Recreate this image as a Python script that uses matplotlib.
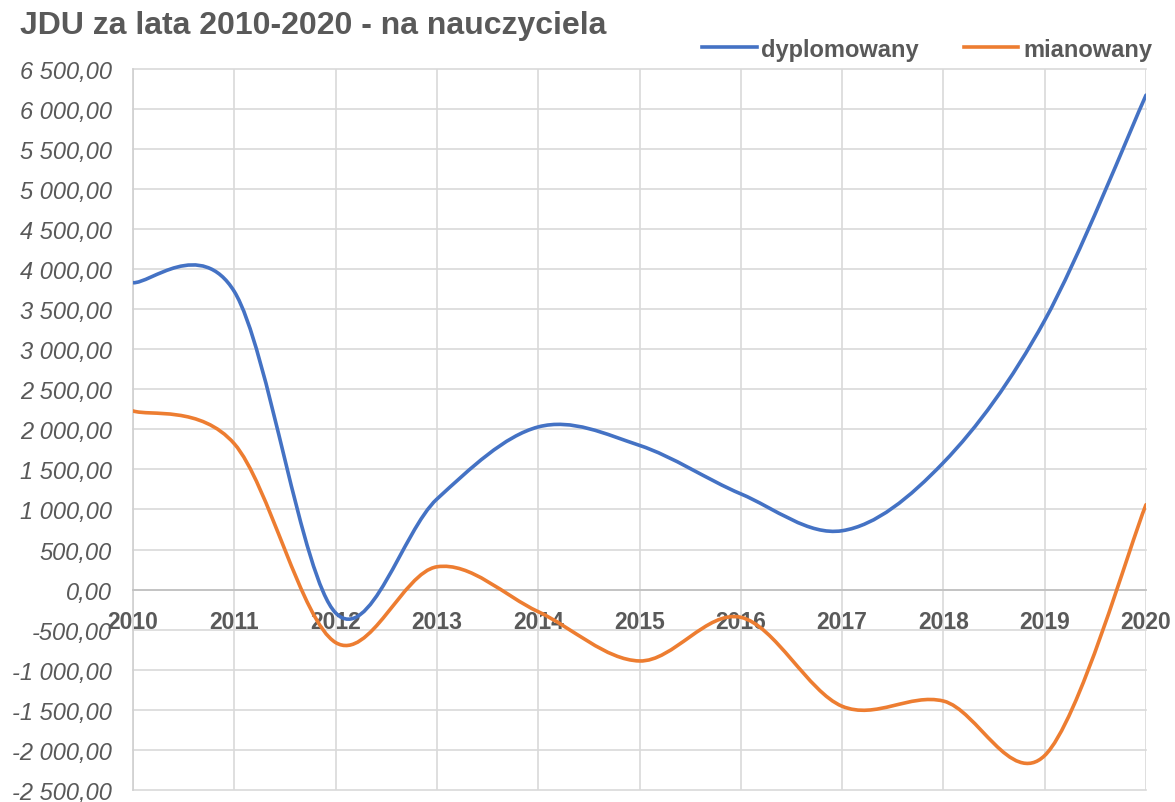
import matplotlib
matplotlib.use('Agg')
import matplotlib.pyplot as plt
from matplotlib.path import Path
from matplotlib.patches import PathPatch
from matplotlib.lines import Line2D
from matplotlib.ticker import FuncFormatter

plt.rcParams['font.family'] = ['Liberation Sans', 'DejaVu Sans']

# data
lata = [2010, 2011, 2012, 2013, 2014, 2015, 2016, 2017, 2018, 2019, 2020]
dyplomowany = [3830, 3720, -290, 1130, 2030, 1800, 1195, 735, 1585, 3360, 6170]
mianowany = [2230, 1820, -660, 285, -275, -890, -345, -1455, -1390, -2070, 1060]

NIEBIESKI = '#4472C4'
POMARANCZ = '#ED7D31'
SZARY = '#595959'


def gladka_sciezka(xs, ys):
    # smoothed line like in Excel: cubic bezier through every point
    pts = list(zip(xs, ys))
    n = len(pts)
    verts = [pts[0]]
    codes = [Path.MOVETO]
    for i in range(n - 1):
        p0 = pts[i - 1] if i > 0 else pts[i]
        p1 = pts[i]
        p2 = pts[i + 1]
        p3 = pts[i + 2] if i + 2 < n else pts[i + 1]
        c1 = (p1[0] + (p2[0] - p0[0]) / 6, p1[1] + (p2[1] - p0[1]) / 6)
        c2 = (p2[0] - (p3[0] - p1[0]) / 6, p2[1] - (p3[1] - p1[1]) / 6)
        verts += [c1, c2, p2]
        codes += [Path.CURVE4] * 3
    return Path(verts, codes)


def fmt(v, pos):
    s = f'{abs(v):,.2f}'.replace(',', ' ').replace('.', ',')
    return ('-' if v < 0 else '') + s


fig = plt.figure(figsize=(11.75, 8.03), dpi=100)
ax = fig.add_axes([133 / 1175, 1 - 791 / 803, (1146 - 133) / 1175, (791 - 69.7) / 803])

for seria, kolor in [(dyplomowany, NIEBIESKI), (mianowany, POMARANCZ)]:
    ax.add_patch(PathPatch(gladka_sciezka(lata, seria), facecolor='none',
                           edgecolor=kolor, lw=2.6, capstyle='round', zorder=3))

ax.set_xlim(2010, 2020)
ax.set_ylim(-2500, 6500)
ax.set_xticks(lata)
ax.set_yticks(range(-2500, 6501, 500))
ax.yaxis.set_major_formatter(FuncFormatter(fmt))

ax.grid(True, color='#D9D9D9', lw=1.2, zorder=0)
for l in ax.get_xgridlines() + ax.get_ygridlines():
    l.set_clip_on(False)

ax.spines['bottom'].set_position(('data', 0))
ax.spines['bottom'].set_color('#BFBFBF')
ax.spines['bottom'].set_linewidth(1.2)
ax.spines['left'].set_color('#D0D0D0')
ax.spines['left'].set_linewidth(1.2)
ax.spines['top'].set_visible(False)
ax.spines['right'].set_visible(False)

ax.tick_params(axis='both', length=0)
ax.tick_params(axis='x', pad=15, labelsize=16.5, labelcolor=SZARY)
ax.tick_params(axis='y', pad=15, labelsize=17, labelcolor=SZARY)
for t in ax.get_xticklabels():
    t.set_fontweight('bold')
for t in ax.get_yticklabels():
    t.set_fontstyle('italic')

fig.text(20 / 1175, 1 - 26 / 803, 'JDU za lata 2010-2020 - na nauczyciela',
         fontsize=23, fontweight='bold', color=SZARY, va='center', ha='left')

uchwyty = [Line2D([], [], color=NIEBIESKI, lw=2.6), Line2D([], [], color=POMARANCZ, lw=2.6)]
leg = fig.legend(uchwyty, ['dyplomowany', 'mianowany'], ncol=2, frameon=False,
                 loc='center right', bbox_to_anchor=(1152 / 1175, 1 - 50 / 803),
                 prop={'size': 17, 'weight': 'bold'}, handlelength=2.3,
                 handletextpad=0.2, columnspacing=1.9, borderaxespad=0, borderpad=0)
for t in leg.get_texts():
    t.set_color(SZARY)

fig.savefig('out.png', dpi=100)
